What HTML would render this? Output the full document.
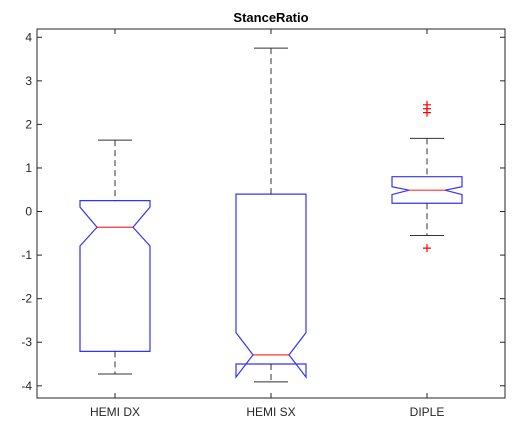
<!DOCTYPE html>
<html><head><meta charset="utf-8"><style>
html,body{margin:0;padding:0;background:#fff;width:532px;height:438px;overflow:hidden}
text{font-family:"Liberation Sans",Arial,sans-serif}
</style></head><body>
<svg id="chart" width="532" height="438" viewBox="0 0 532 438"></svg>
<script>
const categories=["HEMI DX","HEMI SX","DIPLE"];
const q3=[0.25,0.40,0.80];
const notchHi=[0.10,-2.78,0.57];
const medians=[-0.36,-3.29,0.49];
const notchLo=[-0.79,-3.80,0.39];
const q1=[-3.21,-3.50,0.19];
const whiskerHi=[1.64,3.75,1.68];
const whiskerLo=[-3.73,-3.91,-0.55];
const outliers=[[],[],[2.45,2.36,2.27,-0.84]];
const yTicks=[-4,-3,-2,-1,0,1,2,3,4];
const NS="http://www.w3.org/2000/svg";
const svg=document.getElementById('chart');
const L=37,R=505,T=29,B=398,yMin=-4.28,yMax=4.19;
function xs(i){return L+(i+1-0.5)/3*(R-L);}
function ys(v){return B-(v-yMin)/(yMax-yMin)*(B-T);}
function mk(tag,attrs){const e=document.createElementNS(NS,tag);for(const k in attrs)e.setAttribute(k,attrs[k]);svg.appendChild(e);return e;}
let e=mk('rect',{x:L,y:T,width:R-L,height:B-T,fill:'#fff',stroke:'#262626','stroke-width':1});


yTicks.forEach(t=>{
 const y=ys(t);
 let l=mk('line',{x1:L,x2:L+5,y1:y,y2:y,stroke:'#262626'});
 
 
 let l2=mk('line',{x1:R,x2:R-5,y1:y,y2:y,stroke:'#262626'});
 
 
 let tx=mk('text',{x:L-5,y:y+4,'text-anchor':'end','font-size':12,fill:'#262626'});
 tx.textContent=t;
 
 
});
const hw=35,nw=18,cw=17;
categories.forEach((c,i)=>{
 const x=xs(i);
 let tk=mk('line',{x1:x,x2:x,y1:B,y2:B-5,stroke:'#262626'});
 
 
 let tk2=mk('line',{x1:x,x2:x,y1:T,y2:T+5,stroke:'#262626'});
 
 
 let lab=mk('text',{x:x,y:B+18,'text-anchor':'middle','font-size':12,fill:'#262626'});
 lab.textContent=c;
 
 
 let w1=mk('line',{x1:x,x2:x,y1:ys(whiskerHi[i]),y2:ys(q3[i]),stroke:'#333','stroke-dasharray':'6,4'});
 
 
 let w2=mk('line',{x1:x,x2:x,y1:ys(q1[i]),y2:ys(whiskerLo[i]),stroke:'#333','stroke-dasharray':'6,4'});
 
 
 let c1=mk('line',{x1:x-cw,x2:x+cw,y1:ys(whiskerHi[i]),y2:ys(whiskerHi[i]),stroke:'#333'});
 
 
 let c2=mk('line',{x1:x-cw,x2:x+cw,y1:ys(whiskerLo[i]),y2:ys(whiskerLo[i]),stroke:'#333'});
 
 
 const pts=[[x-hw,ys(q3[i])],[x+hw,ys(q3[i])],[x+hw,ys(notchHi[i])],[x+nw,ys(medians[i])],[x+hw,ys(notchLo[i])],[x+hw,ys(q1[i])],[x-hw,ys(q1[i])],[x-hw,ys(notchLo[i])],[x-nw,ys(medians[i])],[x-hw,ys(notchHi[i])]];
 let bx=mk('polygon',{points:pts.map(p=>p.join(',')).join(' '),fill:'none',stroke:'#0000ff','stroke-width':1.2,'stroke-opacity':0.8});
 
 
 let md=mk('line',{x1:x-nw,x2:x+nw,y1:ys(medians[i]),y2:ys(medians[i]),stroke:'#ff0000','stroke-width':1.2,'stroke-opacity':0.8});
 
 
 outliers[i].forEach(v=>{
  const y=ys(v);
  let o=mk('path',{d:`M${x-4},${y}H${x+4}M${x},${y-4}V${y+4}`,stroke:'#ff0000','stroke-width':1.2});
  
  
 });
});
let title=mk('text',{x:(L+R)/2,y:22,'text-anchor':'middle','font-size':13,'font-weight':'bold',fill:'#000'});
title.textContent='StanceRatio';


</script>
</body></html>
